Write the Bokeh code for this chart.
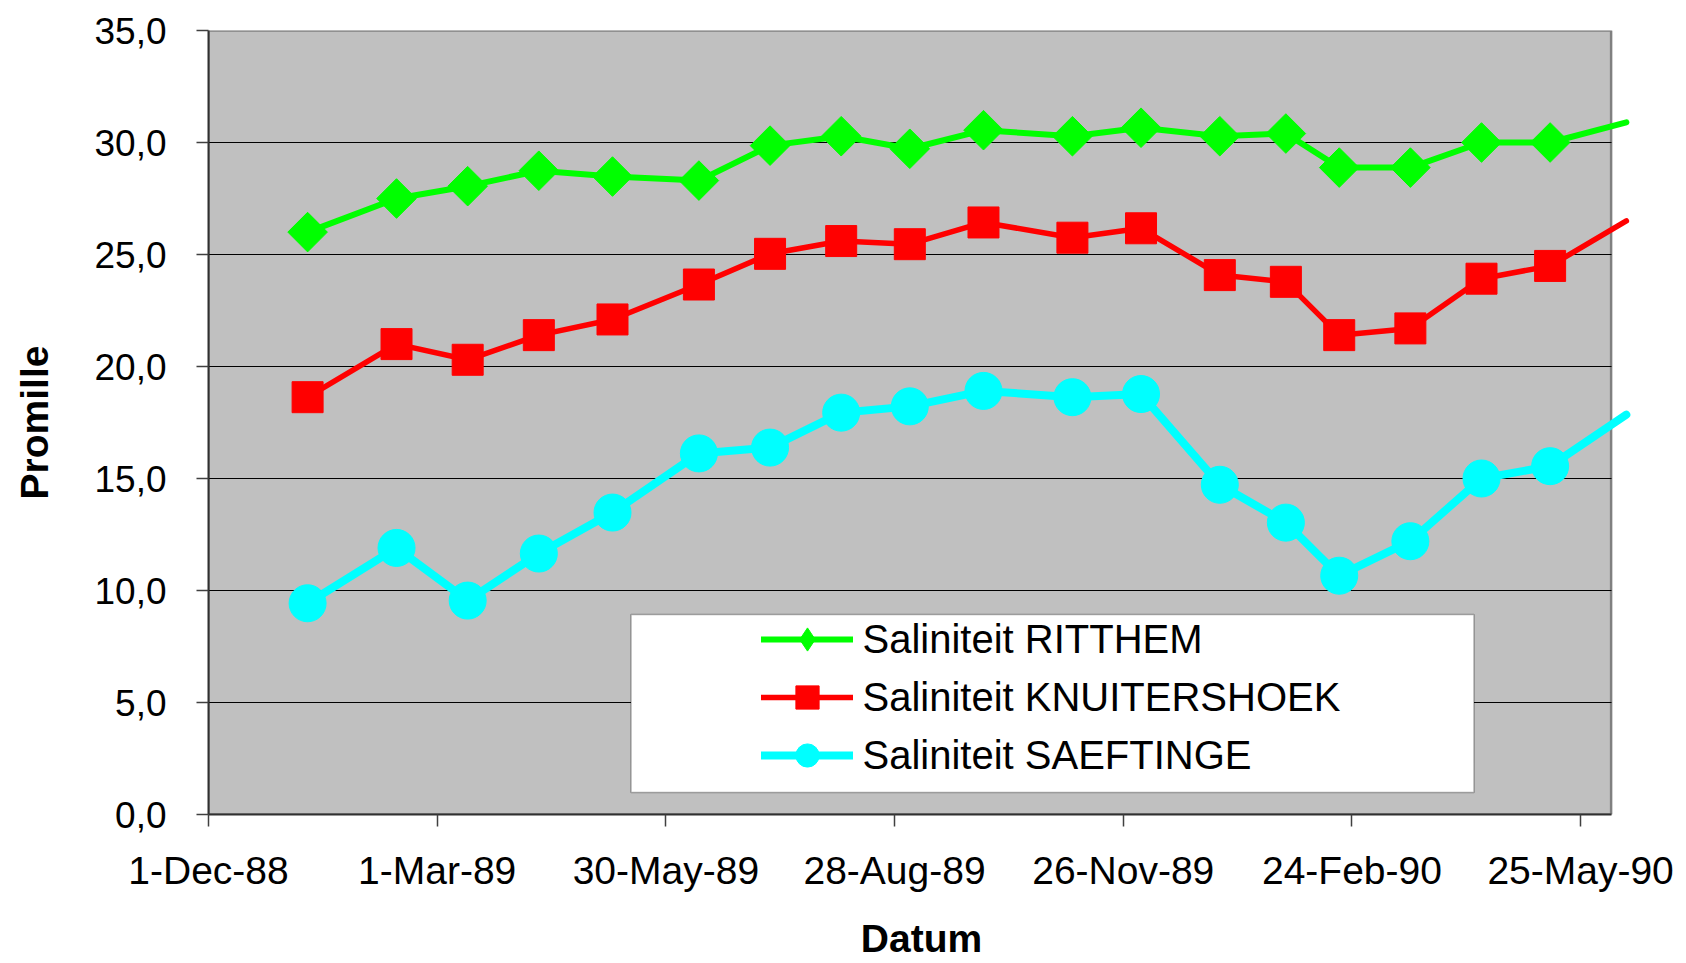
import numpy as np
import pandas as pd
from bokeh.plotting import figure
from bokeh.models import (Range1d, FixedTicker, BoxAnnotation, Legend, LegendItem,
                          ColumnDataSource, CDSView, BooleanFilter, DatetimeTickFormatter)
from bokeh.embed import file_html
from bokeh.resources import INLINE

# ---------------- data ----------------
dates = ["1989-01-09", "1989-02-13", "1989-03-13", "1989-04-10", "1989-05-09",
         "1989-06-12", "1989-07-10", "1989-08-07", "1989-09-03", "1989-10-02",
         "1989-11-06", "1989-12-03", "1990-01-03", "1990-01-29", "1990-02-19",
         "1990-03-19", "1990-04-16", "1990-05-13", "1990-06-12"]
ritthem = [26.0, 27.5, 28.05, 28.74, 28.48, 28.3, 29.86, 30.28, 29.72, 30.55,
           30.28, 30.66, 30.28, 30.4, 28.88, 28.88, 30.0, 30.0, 30.9]
knuitershoek = [18.63, 21.0, 20.3, 21.4, 22.1, 23.66, 25.03, 25.6, 25.46, 26.43,
                25.75, 26.17, 24.08, 23.78, 21.4, 21.7, 23.92, 24.49, 26.5]
saeftinge = [9.43, 11.9, 9.55, 11.65, 13.48, 16.12, 16.38, 17.94, 18.22, 18.91,
             18.63, 18.77, 14.72, 13.03, 10.66, 12.2, 15.0, 15.55, 17.85]
series_names = ["Saliniteit RITTHEM", "Saliniteit KNUITERSHOEK", "Saliniteit SAEFTINGE"]

x_tick_dates = ["1988-12-01", "1989-03-01", "1989-05-30", "1989-08-28",
                "1989-11-26", "1990-02-24", "1990-05-25"]
x_tick_labels = ["1-Dec-88", "1-Mar-89", "30-May-89", "28-Aug-89",
                 "26-Nov-89", "24-Feb-90", "25-May-90"]
y_ticks = [0, 5, 10, 15, 20, 25, 30, 35]
y_tick_labels = ["0,0", "5,0", "10,0", "15,0", "20,0", "25,0", "30,0", "35,0"]

axis_start = "1988-12-01"
axis_end = "1990-06-06"
view_end = "1990-06-15 05:00"


def ms(s):
    return float(pd.Timestamp(s).value // 1_000_000)


FONT = "Liberation Sans"

# ---------------- figure ----------------
p = figure(width=1684, height=962, output_backend="svg", toolbar_location=None,
           x_axis_type="datetime",
           x_range=Range1d(ms(axis_start), ms(view_end)),
           y_range=Range1d(0, 35),
           min_border_left=208, min_border_right=50,
           min_border_top=30, min_border_bottom=148)
p.background_fill_color = "white"
p.border_fill_color = "white"
p.outline_line_color = None

# plot-area (grey) up to the axis end
plot_area = BoxAnnotation(right=ms(axis_end), fill_color="#C0C0C0", fill_alpha=1.0,
                          line_color="#808080", line_width=2.5, line_alpha=1.0,
                          level="image")
p.add_layout(plot_area)

# grid
p.xgrid.visible = False
p.ygrid.ticker = FixedTicker(ticks=y_ticks[1:-1])
p.ygrid.grid_line_color = "black"
p.ygrid.grid_line_width = 1
try:
    p.ygrid.cross_bounds = (ms(axis_start), ms(axis_end))
except Exception:
    pass

# axes
xa = p.xaxis[0]
xa.ticker = FixedTicker(ticks=[ms(d) for d in x_tick_dates])
fmt = "%d-%b-%y"
xa.formatter = DatetimeTickFormatter(milliseconds=fmt, seconds=fmt, minsec=fmt, minutes=fmt,
                                     hourmin=fmt, hours=fmt, days=fmt, months=fmt, years=fmt)
xa.major_label_overrides = {ms(d): lab for d, lab in zip(x_tick_dates, x_tick_labels)}
xa.bounds = (ms(axis_start), ms(axis_end))
xa.axis_label = "Datum"

ya = p.yaxis[0]
ya.ticker = FixedTicker(ticks=y_ticks)
ya.major_label_overrides = {t: lab for t, lab in zip(y_ticks, y_tick_labels)}
ya.axis_label = "Promille"

for ax in (xa, ya):
    ax.axis_line_color = "#303030"
    ax.axis_line_width = 2
    ax.major_tick_line_color = "#404040"
    ax.major_tick_line_width = 1.5
    ax.major_tick_out = 12
    ax.major_tick_in = 0
    ax.minor_tick_line_color = None
    ax.major_label_text_font = FONT
    ax.major_label_text_color = "black"
    ax.axis_label_text_font = FONT
    ax.axis_label_text_font_style = "bold"
    ax.axis_label_text_font_size = "39px"
    ax.axis_label_text_color = "black"

xa.major_label_text_font_size = "39px"
xa.major_label_standoff = 22
xa.axis_label_standoff = 22
ya.major_label_text_font_size = "37px"
ya.major_label_standoff = 30
ya.axis_label_standoff = 35

# ---------------- series ----------------
dt = pd.to_datetime(dates)
src = ColumnDataSource(dict(date=dt, ritthem=ritthem, knuitershoek=knuitershoek,
                            saeftinge=saeftinge))
inside = [bool(d <= pd.Timestamp(axis_end)) for d in dt]
view = CDSView(filter=BooleanFilter(inside))

styles = [
    ("ritthem", "#00FF00", 6, dict(marker="square", size=28, angle=np.pi / 4), "diamond"),
    ("knuitershoek", "#FF0000", 5.5, dict(marker="square", size=31), "square"),
    ("saeftinge", "#00FFFF", 8, dict(marker="circle", size=37), "circle"),
]

# empty source: legend-only marker renderers (nothing drawn in the plot)
legend_src = ColumnDataSource(dict(x=[np.nan], y=[np.nan]))

items = []
for (col, color, lw, mk, legend_marker), name in zip(styles, series_names):
    lr = p.line(x="date", y=col, source=src, line_color=color, line_width=lw,
                line_join="round", line_cap="round")
    p.scatter(x="date", y=col, source=src, view=view, fill_color=color,
              line_color=color, **mk)
    lm = p.scatter(x="x", y="y", source=legend_src, marker=legend_marker,
                   fill_color=color, line_color=color)
    items.append(LegendItem(label=name, renderers=[lr, lm]))

# legend box (white) behind the legend entries
legend_box = BoxAnnotation(left=422.5, right=1265.5, bottom=22, top=200,
                           left_units="screen", right_units="screen",
                           top_units="screen", bottom_units="screen",
                           fill_color="white", fill_alpha=1.0,
                           line_color="black", line_width=1.5, level="annotation")
p.add_layout(legend_box)

legend = Legend(items=items, location=(552.5, 30), padding=5, spacing=0, margin=0,
                glyph_width=92, glyph_height=58, label_height=58, label_standoff=10,
                border_line_color=None, background_fill_alpha=0.0,
                label_text_font=FONT, label_text_font_size="40px",
                label_text_color="black")
p.add_layout(legend)

open("out.html", "w").write(file_html(p, INLINE))
